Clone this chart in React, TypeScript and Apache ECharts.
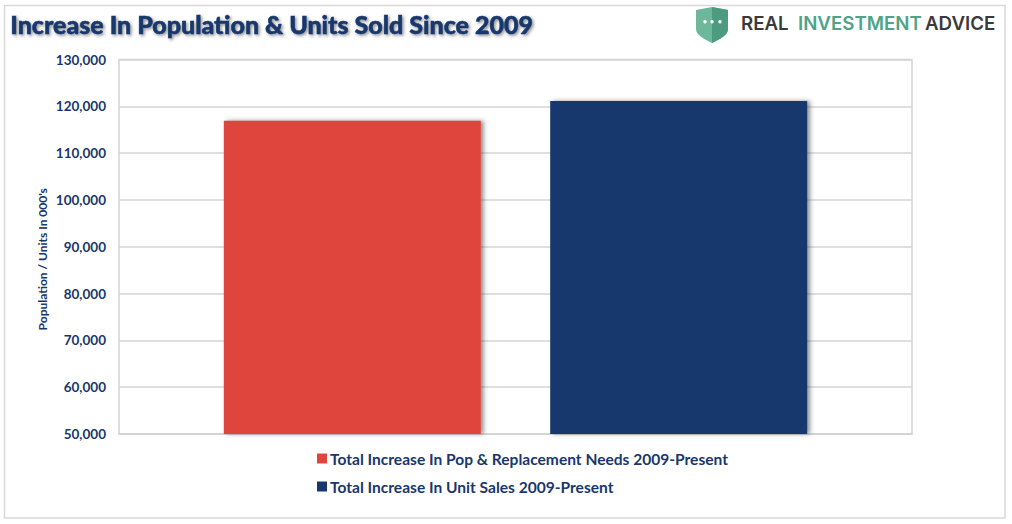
import React, { useEffect, useRef } from "react";
import * as echarts from "echarts";

const seriesNames = [
  "Total Increase In Pop & Replacement Needs 2009-Present",
  "Total Increase In Unit Sales 2009-Present",
];
const categories = ["Total"];
const popValues = [116900];
const unitValues = [121150];
const NAVY = "#19376D";
const RED = "#DF453C";
const FONT = "Lato, 'Open Sans', sans-serif";

echarts.graphic.registerShape(
  "rsaShield",
  echarts.graphic.extendPath(
    "M0 3 L16 0 L32 3 L32 22 C32 28 24 32 16 36 C8 32 0 28 0 22 Z",
    {}
  )
);
echarts.graphic.registerShape(
  "rsaShieldHalf",
  echarts.graphic.extendPath("M16 0 L32 3 L32 22 C32 28 24 32 16 36 Z", {})
);

export default function App() {
  const ref = useRef<HTMLDivElement>(null);
  useEffect(() => {
    const chart = echarts.init(ref.current!, null, { renderer: "svg" });
    const barShadow = {
      shadowColor: "rgba(60,60,60,0.55)",
      shadowBlur: 4,
      shadowOffsetX: 3,
      shadowOffsetY: 0,
    };
    chart.setOption({
      animation: false,
      backgroundColor: "#ffffff",
      grid: { left: 119, top: 59.5, width: 793, height: 374.5, containLabel: false, show: true, borderColor: "#D4D4D4", borderWidth: 1.5, backgroundColor: "transparent" },
      legend: {
        orient: "vertical",
        left: 312,
        top: 445.5,
        itemWidth: 10,
        itemHeight: 10,
        itemGap: 12,
        icon: "rect",
        textStyle: { color: NAVY, fontFamily: FONT, fontWeight: "bold", fontSize: 15.55, padding: [0, 0, 0, -2] },
        data: seriesNames,
      },
      xAxis: {
        type: "category",
        data: categories,
        axisLabel: { show: false },
        axisTick: { show: false },
        axisLine: { show: true, lineStyle: { color: "#D4D4D4", width: 1.5 } },
      },
      yAxis: {
        type: "value",
        min: 50000,
        max: 130000,
        interval: 10000,
        name: "Population / Units In 000's",
        nameLocation: "middle",
        nameMoveOverlap: false,
        nameGap: 71,
        nameTextStyle: { color: NAVY, fontFamily: FONT, fontWeight: "bold", fontSize: 12, padding: [0, 25, 0, 0] },
        axisLine: { show: false },
        axisTick: { show: false },
        axisLabel: {
          color: NAVY,
          fontFamily: FONT,
          fontWeight: "bold",
          fontSize: 13.5,
          margin: 13,
          formatter: (v: number) => v.toLocaleString("en-US"),
        },
        splitLine: { show: true, lineStyle: { color: "#D4D4D4", width: 1.5 } },
      },
      series: [
        { name: seriesNames[0], type: "bar", data: popValues, barWidth: 257, barGap: "27%", itemStyle: { color: RED, ...barShadow } },
        { name: seriesNames[1], type: "bar", data: unitValues, barWidth: 257, barGap: "27%", itemStyle: { color: NAVY, ...barShadow } },
      ],
      graphic: [
        { type: "rect", z: -1, shape: { x: 4.5, y: 5.5, width: 1000.5, height: 512.5 }, style: { fill: "none", stroke: "#D9D9D9", lineWidth: 1.5 } },
        {
          type: "text",
          left: 10,
          top: 11,
          style: {
            text: "Increase In Population & Units Sold Since 2009",
            fill: NAVY,
            stroke: NAVY,
            lineWidth: 0.5,
            font: `900 25px ${FONT}`,
            textShadowColor: "rgba(50,50,50,0.55)",
            textShadowBlur: 3,
            textShadowOffsetX: 1.5,
            textShadowOffsetY: 1.5,
          },
        },
        { type: "rsaShield", x: 696, y: 7, style: { fill: "#6DB89C" } },
        { type: "rsaShieldHalf", x: 696, y: 7, style: { fill: "#4C9A80" } },
        { type: "circle", shape: { cx: 705, cy: 21.7, r: 1.7 }, style: { fill: "#fff" } },
        { type: "circle", shape: { cx: 712, cy: 21.7, r: 1.7 }, style: { fill: "#fff" } },
        { type: "circle", shape: { cx: 720, cy: 21.7, r: 1.7 }, style: { fill: "#fff" } },
        {
          type: "text",
          left: 741,
          top: 14,
          style: { text: "REAL", fill: "#3A3A3A", font: "600 18.7px Inter, sans-serif" },
        },
        {
          type: "text",
          left: 798,
          top: 14,
          style: { text: "INVESTMENT", fill: "#4FA388", font: "600 18.7px Inter, sans-serif" },
        },
        {
          type: "text",
          left: 925,
          top: 14,
          style: { text: "ADVICE", fill: "#3A3A3A", font: "600 18.7px Inter, sans-serif" },
        },
      ],
    });
    return () => chart.dispose();
  }, []);
  return (
    <div
      ref={ref}
      style={{ position: "fixed", left: 0, top: 0, width: 1012, height: 524 }}
    />
  );
}
